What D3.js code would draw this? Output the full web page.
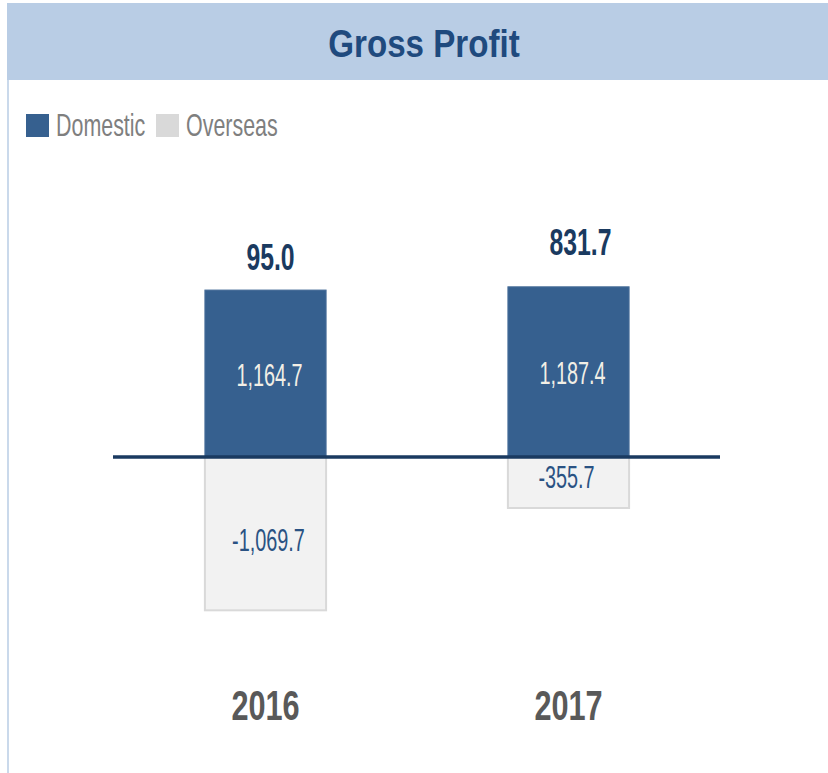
<!DOCTYPE html>
<html>
<head>
<meta charset="utf-8">
<script src="https://cdn.jsdelivr.net/npm/d3@7"></script>
<style>
    body { margin: 0; background: #fff; }
    svg text { font-family: "Liberation Sans", Arial, sans-serif; }
</style>
</head>
<body>
<div id="chart"></div>
<script>
// chart data
const years = ['2016', '2017'];
const domestic = [1164.7, 1187.4];
const overseas = [-1069.7, -355.7];
const totals = [95.0, 831.7];
const seriesNames = ['Domestic', 'Overseas'];

const width = 828, height = 773;
const svg = d3.select('#chart').append('svg')
    .attr('width', width)
    .attr('height', height);

// the original uses a condensed face, so squeeze text horizontally
function label(parent, x, y, str, opts) {
    return parent.append('text')
        .attr('transform', `translate(${x},${y}) scale(${opts.sx},1)`)
        .attr('text-anchor', opts.anchor || 'middle')
        .style('font-size', opts.size + 'px')
        .style('font-weight', opts.weight || 'normal')
        .attr('fill', opts.fill)
        .text(str);
}

// header band
svg.append('rect')
    .attr('x', 7).attr('y', 3)
    .attr('width', width - 7).attr('height', 77)
    .attr('fill', '#b9cde5');
svg.append('line')
    .attr('x1', 8).attr('x2', 8)
    .attr('y1', 80).attr('y2', height)
    .attr('stroke', '#b9cde5').attr('stroke-width', 1.5);

label(svg, 424, 57, 'Gross Profit', { size: 39, weight: 'bold', fill: '#1f4a7e', sx: 0.85 });

// legend
const legendColors = ['#36608f', '#d9d9d9'];
const legendX = [26, 156];
seriesNames.forEach((name, i) => {
    svg.append('rect')
        .attr('x', legendX[i]).attr('y', 114)
        .attr('width', 23).attr('height', 23)
        .attr('fill', legendColors[i]);
    label(svg, legendX[i] + 30, 136, name, { size: 32, fill: '#7f7f7f', sx: 0.67, anchor: 'start' });
});

// scales
const x = d3.scaleBand()
    .domain(years)
    .range([114, 720])
    .paddingInner(0.6)
    .paddingOuter(0.3);

const y = d3.scaleLinear()
    .domain([-1200, 1200])
    .range([629, 285]);

const fmt = d3.formatLocale({ decimal: '.', thousands: ',', grouping: [3], currency: ['', ''], minus: '-' }).format(',.1f');
const g = svg.append('g');

// domestic bars
g.selectAll('.dom')
    .data(years)
    .enter().append('rect')
    .attr('class', 'dom')
    .attr('x', d => x(d))
    .attr('width', x.bandwidth())
    .attr('y', (d, i) => y(domestic[i]))
    .attr('height', (d, i) => y(0) - y(domestic[i]))
    .attr('fill', '#36608f')
    .attr('stroke', '#4a6f9a')
    .attr('stroke-width', 1);

// overseas bars
g.selectAll('.ovs')
    .data(years)
    .enter().append('rect')
    .attr('class', 'ovs')
    .attr('x', d => x(d))
    .attr('width', x.bandwidth())
    .attr('y', y(0))
    .attr('height', (d, i) => y(overseas[i]) - y(0))
    .attr('fill', '#f2f2f2')
    .attr('stroke', '#d9d9d9')
    .attr('stroke-width', 2);

// zero line
svg.append('line')
    .attr('x1', 113).attr('x2', 720)
    .attr('y1', y(0)).attr('y2', y(0))
    .attr('stroke', '#1a3a60')
    .attr('stroke-width', 3.5);

const cx = d => x(d) + x.bandwidth() / 2;

// value labels inside bars
years.forEach((d, i) => {
    label(g, cx(d) + 4, (y(domestic[i]) + y(0)) / 2 + 12, fmt(domestic[i]),
        { size: 32, fill: '#f2efe6', sx: 0.62 });
    label(g, cx(d) + (i === 0 ? 3 : -2), (y(overseas[i]) + y(0)) / 2 + (i === 0 ? 17 : 6), fmt(overseas[i]),
        { size: 32, fill: '#2a5283', sx: 0.62 });
});

// totals above bars
const totalGap = [20, 32];
const totalShift = [5, 12];
years.forEach((d, i) => {
    label(g, cx(d) + totalShift[i], y(domestic[i]) - totalGap[i], fmt(totals[i]),
        { size: 37, weight: 'bold', fill: '#1a3a60', sx: 0.67 });
});

// year axis labels
const xAxis = d3.axisBottom(x).tickSize(0).tickPadding(0);
const axisG = svg.append('g')
    .attr('transform', 'translate(0,720)')
    .call(xAxis);
axisG.select('.domain').remove();
axisG.selectAll('text')
    .attr('dy', 0)
    .attr('y', 0)
    .attr('transform', 'scale(0.73,1)')
    .style('font-family', '"Liberation Sans", Arial, sans-serif')
    .style('font-size', '42px')
    .style('font-weight', 'bold')
    .attr('fill', '#595959');
</script>
</body>
</html>
